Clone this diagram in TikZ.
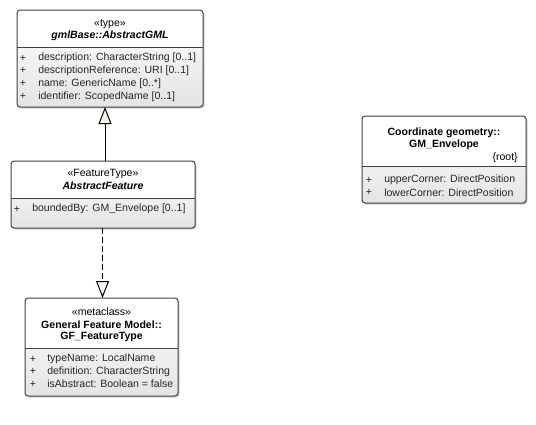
\documentclass[tikz,border=0pt]{standalone}
\usepackage{fontspec}
\setmainfont{Liberation Sans}
\usepackage{xcolor}
\definecolor{Black}{HTML}{000000}
\definecolor{White}{HTML}{FFFFFF}
\definecolor{Border}{HTML}{404040}
\definecolor{Ink}{HTML}{262626}
\definecolor{Compartment}{HTML}{E4E4E4}
\definecolor{Shadow}{HTML}{9E9E9E}
\definecolor{Cream}{HTML}{FBF4EC}
\usepackage{tikz}
\usetikzlibrary{arrows.meta, shadows}
\newcommand{\umlfont}{\fontsize{7.9}{9.5}\selectfont}
\tikzset{
  every picture/.style={font={\umlfont}, >=Stealth},
  classbox/.style n args={3}{draw=Border, fill=White, line width=0.75pt,
    rounded corners=2.25pt, inner sep=0pt, outer sep=0pt, anchor=north west,
    minimum width=#1*0.75pt, minimum height=#2*0.75pt,
    drop shadow={shadow xshift=1.2pt, shadow yshift=-1.2pt, fill=Shadow, opacity=0.45},
    path picture={
      \shade[sharp corners, top color=White, bottom color=Compartment]
        ([yshift=-#3*0.75pt]path picture bounding box.north west)
        rectangle (path picture bounding box.south east);
      \draw[sharp corners, Border, line width=0.75pt]
        ([yshift=-#3*0.75pt]path picture bounding box.north west)
        -- ([yshift=-#3*0.75pt]path picture bounding box.north east);}},
  stereo/.style={inner sep=0pt, text=Black},
  classname/.style={inner sep=0pt, text=Black, font={\umlfont\bfseries}},
  abstract/.style={classname, font={\umlfont\bfseries\itshape}},
  attr/.style={inner sep=0pt, anchor=west, text=Ink},
  plus/.style={inner sep=0pt, text=Ink},
  inherits/.style={Black, line width=0.75pt, -{Triangle[length=12.75pt, width=9.75pt, fill=Cream]}},
  realizes/.style={inherits, dash pattern=on 4.5pt off 2.25pt}
}

\begin{document}
\begin{tikzpicture}[x=0.75pt, y=-0.75pt]
    \useasboundingbox (0,0) rectangle (536,425);

    % gmlBase::AbstractGML
    \node[classbox={186}{97}{37}] (gml) at (17,10) {};
    \node[stereo] (gml-stereo) at (110,24) {«type»};
    \node[abstract] (gml-name) at (110,35.5) {gmlBase::AbstractGML};
    \foreach \attr [count=\i] in {{description: CharacterString [0..1]},
        {descriptionReference: URI [0..1]}, {name: GenericName [0..*]},
        {identifier: ScopedName [0..1]}} {
      \node[plus] (gml-p\i) at (23, 45.3+12.8*\i) {+};
      \node[attr] (gml-a\i) at (38, 45.3+12.8*\i) {\attr};
    }

    % AbstractFeature
    \node[classbox={184}{67}{37}] (feature) at (11,161) {};
    \node[stereo] (feature-stereo) at (103,173.5) {«FeatureType»};
    \node[abstract] (feature-name) at (103,186) {AbstractFeature};
    \node[plus] (feature-p1) at (17,209) {+};
    \node[attr] (feature-a1) at (32,209) {boundedBy: GM\_Envelope [0..1]};

    % General Feature Model::GF_FeatureType
    \node[classbox={153}{98}{50}] (gftype) at (25,298) {};
    \node[stereo] (gftype-stereo) at (101.5,312) {«metaclass»};
    \node[classname] (gftype-pkg) at (101.5,324.5) {General Feature Model::};
    \node[classname] (gftype-name) at (101.5,337) {GF\_FeatureType};
    \foreach \attr [count=\i] in {{typeName: LocalName},
        {definition: CharacterString}, {isAbstract: Boolean = false}} {
      \node[plus] (gftype-p\i) at (33, 346.5+12.5*\i) {+};
      \node[attr] (gftype-a\i) at (47, 346.5+12.5*\i) {\attr};
    }

    % Coordinate geometry::GM_Envelope
    \node[classbox={164}{87}{50}] (envelope) at (362,116) {};
    \node[classname] (envelope-pkg) at (444,132.5) {Coordinate geometry::};
    \node[classname] (envelope-name) at (444,144.5) {GM\_Envelope};
    \node[stereo, anchor=east] (envelope-tag) at (518,158) {\{root\}};
    \foreach \attr [count=\i] in {{upperCorner: DirectPosition},
        {lowerCorner: DirectPosition}} {
      \node[plus] (envelope-p\i) at (369, 167.5+12.5*\i) {+};
      \node[attr] (envelope-a\i) at (384, 167.5+12.5*\i) {\attr};
    }

    % connectors
    \coordinate (gen-x) at (105,0);
    \coordinate (real-x) at (102.5,0);
    \draw[inherits] (feature.north -| gen-x) -- (gml.south -| gen-x);
    \draw[realizes] (feature.south -| real-x) -- (gftype.north -| real-x);
\end{tikzpicture}
\end{document}
